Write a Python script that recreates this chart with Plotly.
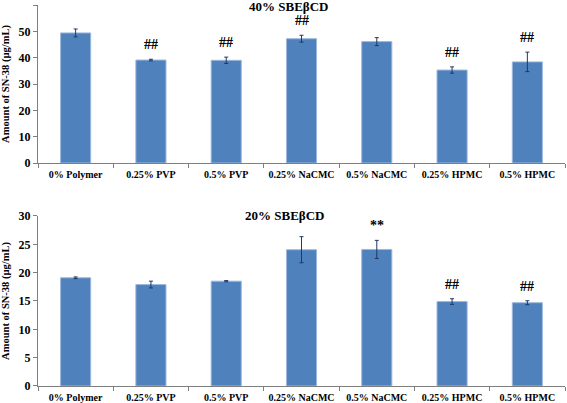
import plotly.graph_objects as go
from plotly.subplots import make_subplots

categories = ["0% Polymer", "0.25% PVP", "0.5% PVP", "0.25% NaCMC", "0.5% NaCMC", "0.25% HPMC", "0.5% HPMC"]

vals_40 = [49.4, 39.1, 39.0, 47.2, 46.1, 35.3, 38.4]
err_40 = [1.5, 0.3, 1.2, 1.3, 1.5, 1.2, 3.7]
marks_40 = ["", "##", "##", "##", "", "##", "##"]

vals_20 = [19.1, 17.9, 18.5, 24.05, 24.1, 14.9, 14.7]
err_20 = [0.15, 0.6, 0.1, 2.3, 1.6, 0.5, 0.35]
marks_20 = ["", "", "", "", "**", "##", "##"]

titles = ["40% SBEβCD", "20% SBEβCD"]
ytitle = "Amount of SN-38 (µg/mL)"

FONT = "Liberation Serif"
BAR = "#4F81BD"
EDGE = "#9DB9DD"
ERRC = "#1F3864"

fig = make_subplots(rows=2, cols=1)

for i, (vals, errs, marks) in enumerate([(vals_40, err_40, marks_40), (vals_20, err_20, marks_20)], start=1):
    fig.add_trace(go.Bar(
        x=categories, y=vals, width=0.4,
        marker=dict(color=BAR, line=dict(color=EDGE, width=1)),
        error_y=dict(type="data", array=errs, color=ERRC, thickness=1, width=2),
        showlegend=False,
    ), row=i, col=1)
    for c, v, e, m in zip(categories, vals, errs, marks):
        if m:
            fig.add_annotation(x=c, y=v + e, text=f"<b>{m}</b>", showarrow=False, yanchor="bottom",
                               yshift=5, font=dict(family=FONT, size=14, color="black"),
                               xref=f"x{'' if i == 1 else i}", yref=f"y{'' if i == 1 else i}")

axis_common = dict(showline=True, linecolor="#7f7f7f", linewidth=1, showgrid=False,
                   zeroline=False, ticks="outside", ticklen=4, tickcolor="#7f7f7f",
                   automargin=False,
                   tickfont=dict(family=FONT, size=12, color="black"))

fig.update_xaxes(**axis_common)
fig.update_xaxes(tickson="boundaries", tickangle=0, ticklabelstandoff=2,
                 tickfont=dict(family=FONT, size=10, color="black"))
fig.update_yaxes(**axis_common)

fig.update_layout(
    xaxis=dict(domain=[0, 1]),
    yaxis=dict(domain=[0.5853, 1], range=[0, 60], dtick=10),
    xaxis2=dict(domain=[0, 1]),
    yaxis2=dict(domain=[0, 0.4462], range=[0, 30], dtick=5),
    width=567, height=403,
    margin=dict(l=38, r=2, t=5, b=17),
    plot_bgcolor="white", paper_bgcolor="white",
    bargap=0.6,
    font=dict(family=FONT, color="black"),
)

fig.update_layout(
    yaxis_title=dict(text=f"<b>{ytitle}</b>", font=dict(family=FONT, size=10.5), standoff=6),
    yaxis2_title=dict(text=f"<b>{ytitle}</b>", font=dict(family=FONT, size=10.5), standoff=6),
)

fig.add_annotation(x=0.475, y=0.996, xref="paper", yref="paper", yanchor="middle",
                   text=f"<b>{titles[0]}</b>",
                   showarrow=False, font=dict(family=FONT, size=13, color="black"))
fig.add_annotation(x=0.467, y=0.447, xref="paper", yref="paper", yanchor="middle",
                   text=f"<b>{titles[1]}</b>",
                   showarrow=False, font=dict(family=FONT, size=13, color="black"))

# bold tick labels
fig.update_xaxes(tickprefix="<b>", ticksuffix="</b>")
fig.update_yaxes(tickprefix="<b>", ticksuffix="</b>")

fig.write_html("out.html", config={"displayModeBar": False},
               post_script="document.body.style.margin='0';")
